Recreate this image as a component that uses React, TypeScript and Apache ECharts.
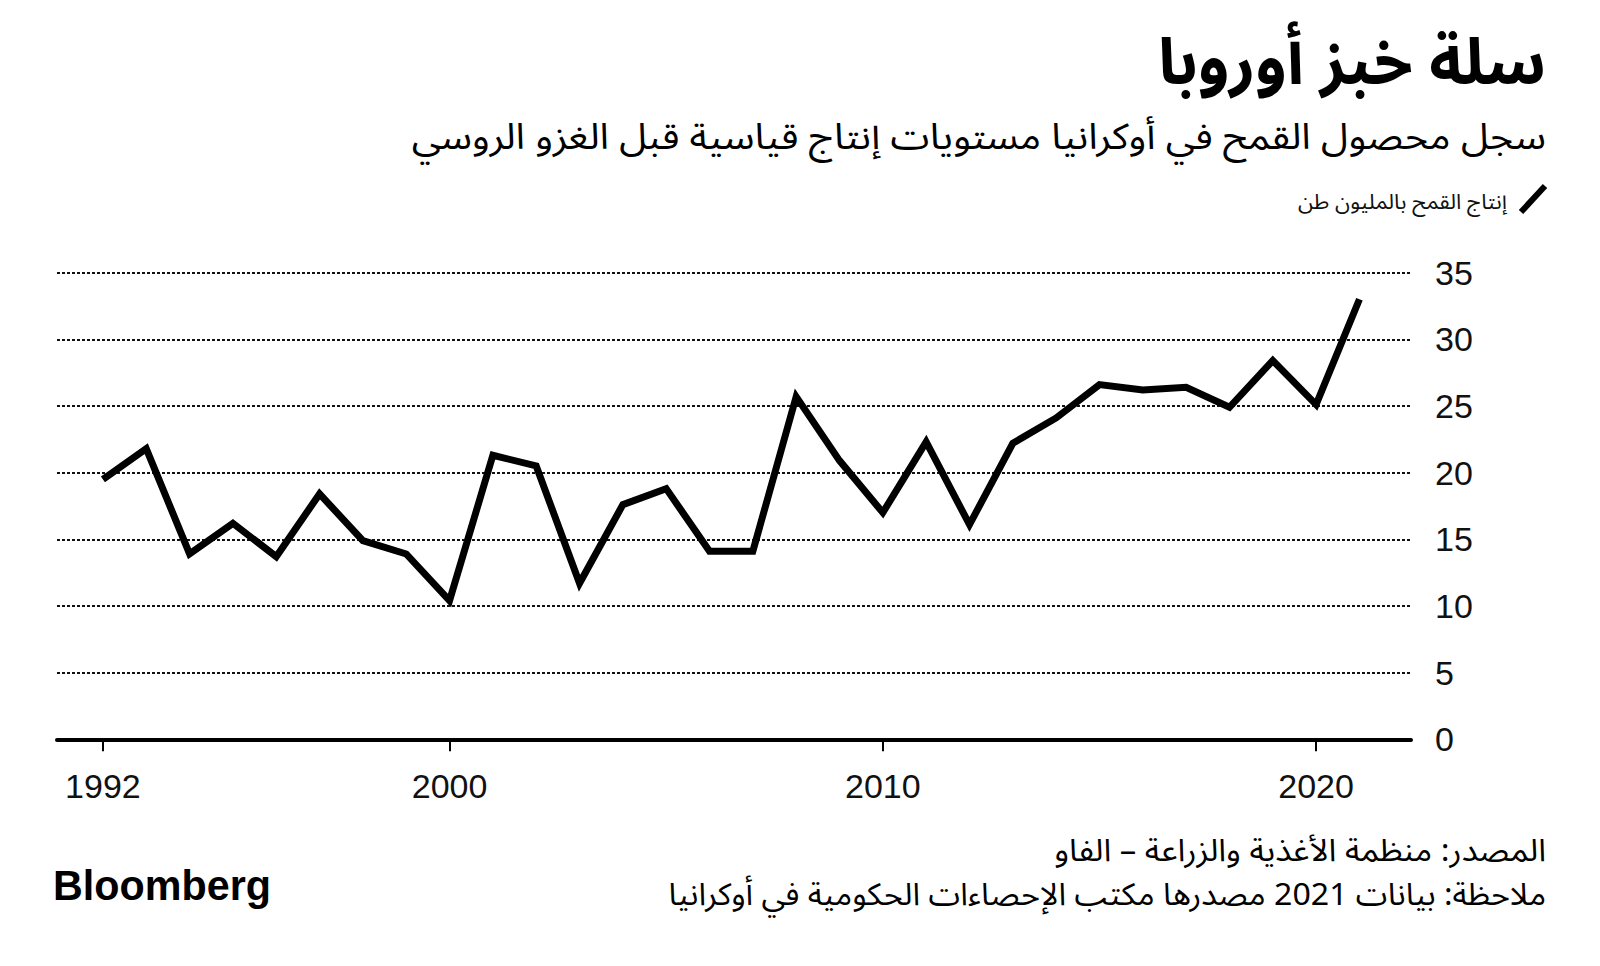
import React, { useEffect, useRef } from "react";
import * as echarts from "echarts";

const years = [
  1992, 1993, 1994, 1995, 1996, 1997, 1998, 1999, 2000, 2001,
  2002, 2003, 2004, 2005, 2006, 2007, 2008, 2009, 2010, 2011,
  2012, 2013, 2014, 2015, 2016, 2017, 2018, 2019, 2020, 2021,
];
const production = [
  19.5, 21.8, 13.9, 16.2, 13.7, 18.4, 14.9, 13.9, 10.4, 21.3,
  20.5, 11.7, 17.6, 18.8, 14.1, 14.1, 25.7, 20.9, 17.0, 22.3,
  16.1, 22.2, 24.1, 26.6, 26.2, 26.4, 24.9, 28.4, 25.1, 33.0,
];
const xTickYears = [1992, 2000, 2010, 2020];
const yTicks = [0, 5, 10, 15, 20, 25, 30, 35];

const TITLE = "سلة خبز أوروبا";
const SUBTITLE = "سجل محصول القمح في أوكرانيا مستويات إنتاج قياسية قبل الغزو الروسي";
const LEGEND = "إنتاج القمح بالمليون طن";
const SOURCE = "المصدر: منظمة الأغذية والزراعة – الفاو";
const NOTE = "ملاحظة: بيانات 2021 مصدرها مكتب الإحصاءات الحكومية في أوكرانيا";
const LOGO = "Bloomberg";

const AR_FONT = "'Noto Sans Arabic', 'DejaVu Sans', sans-serif";
const NUM_FONT = "'Liberation Sans', Arial, sans-serif";

function measure(text: string, font: string): number {
  const c = document.createElement("canvas").getContext("2d");
  if (!c) return 0;
  c.font = font;
  return c.measureText(text).width;
}

function fitText(
  text: string,
  x: number,
  y: number,
  size: number,
  weight: string,
  family: string,
  target: number,
  color: string,
  align: "left" | "right"
) {
  const w = measure(text, `${weight} ${size}px ${family}`);
  const s = w > 0 ? target / w : 1;
  return {
    type: "text",
    x,
    y,
    scaleX: s,
    silent: true,
    style: {
      text,
      fontSize: size,
      fontWeight: weight,
      fontFamily: family,
      fill: color,
      align,
      verticalAlign: "middle",
    },
  };
}

export default function App() {
  const ref = useRef<HTMLDivElement>(null);

  useEffect(() => {
    document.body.style.margin = "0";
    if (!ref.current) return;
    const chart = echarts.init(ref.current, null, { renderer: "svg" });

    const data = years.map((y, i) => [y, production[i]]);

    const option = {
      animation: false,
      backgroundColor: "#ffffff",
      grid: { left: 57, right: 189, top: 272.6, bottom: 226.7, containLabel: false },
      xAxis: {
        type: "value",
        min: 1990.94,
        max: 2022.19,
        splitLine: { show: false },
        axisLine: { show: true, lineStyle: { color: "#000", width: 4 } },
        axisTick: {
          show: true,
          customValues: xTickYears,
          length: 12,
          lineStyle: { color: "#000", width: 2 },
        },
        axisLabel: {
          customValues: xTickYears,
          formatter: (v: number) => String(v),
          margin: 30,
          color: "#111",
          fontSize: 34,
          fontFamily: NUM_FONT,
        },
      },
      yAxis: {
        type: "value",
        position: "right",
        min: 0,
        max: 35,
        interval: 5,
        axisLine: { show: false },
        axisTick: { show: false },
        axisLabel: {
          margin: 24,
          color: "#111",
          fontSize: 34,
          fontFamily: NUM_FONT,
          formatter: (v: number) => (yTicks.includes(v) ? String(v) : ""),
        },
        splitLine: {
          show: true,
          lineStyle: { color: "#111", width: 2, type: [3, 2] },
        },
      },
      series: [
        {
          type: "line",
          data,
          symbol: "none",
          lineStyle: { color: "#000", width: 7, join: "miter", cap: "butt" },
          z: 5,
        },
      ],
      graphic: [
        fitText(TITLE, 1546, 64, 64, "bold", AR_FONT, 388, "#000", "right"),
        fitText(SUBTITLE, 1546, 138, 36, "normal", AR_FONT, 1135, "#000", "right"),
        {
          type: "line",
          silent: true,
          shape: { x1: 1521, y1: 212, x2: 1545, y2: 186 },
          style: { stroke: "#000", lineWidth: 6, lineCap: "butt" },
        },
        fitText(LEGEND, 1507, 202, 21, "normal", AR_FONT, 209, "#111", "right"),
        fitText(SOURCE, 1546, 851, 31, "normal", AR_FONT, 492, "#000", "right"),
        fitText(NOTE, 1546, 895, 31, "normal", AR_FONT, 878, "#000", "right"),
        fitText(LOGO, 53, 885, 43, "bold", NUM_FONT, 218, "#000", "left"),
      ],
    };

    chart.setOption(option as any);
    return () => chart.dispose();
  }, []);

  return (
    <div
      ref={ref}
      style={{ position: "absolute", left: 0, top: 0, width: 1600, height: 966, background: "#fff" }}
    />
  );
}
